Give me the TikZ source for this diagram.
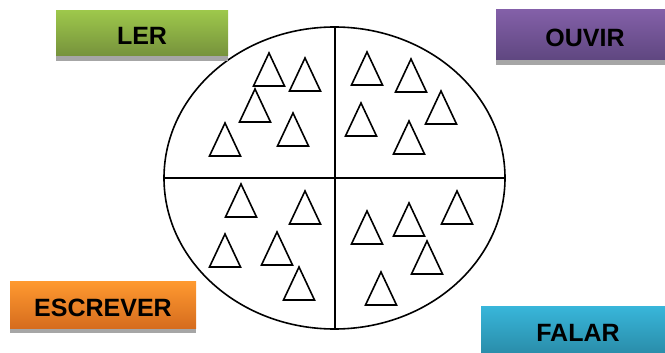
\documentclass[tikz,border=0pt]{standalone}
\usepackage{fontspec}
\setmainfont{Liberation Sans}
\usepackage{tikz}
\usetikzlibrary{positioning, calc}
\definecolor{gruenO}{HTML}{9DC74B}
\definecolor{gruenU}{HTML}{76923C}
\definecolor{lilaO}{HTML}{8360A8}
\definecolor{lilaU}{HTML}{5F4780}
\definecolor{orangeO}{HTML}{FF9A30}
\definecolor{orangeU}{HTML}{D66C1E}
\definecolor{tuerkisO}{HTML}{38B6DA}
\definecolor{tuerkisU}{HTML}{2A8DAA}
\definecolor{schatten}{HTML}{A6A6A6}

\begin{document}
\begin{tikzpicture}[x=1pt, y=-1pt,
        feld/.style={anchor=north west, inner sep=0pt, outer sep=0pt,
                     text height=23pt, text depth=0pt,
                     font=\fontsize{25}{25}\selectfont\bfseries},
        tri/.style={draw, line width=1.6pt, line join=miter},
        kreis/.style={draw, line width=1.6pt}
      ]
      \useasboundingbox (0,0) rectangle (665,353);

      % Kreis mit vier Feldern
      \draw[kreis] (334.5,178) ellipse [x radius=170.5, y radius=151];
      \coordinate (kO) at (335,27);
      \coordinate (kU) at (335,329);
      \coordinate (kL) at (164,178);
      \coordinate (kR) at (505,178);
      \draw[kreis] (kO) -- (kU);
      \draw[kreis] (kL) -- (kR);

      % Dreiecke (Spitze x/y)
      \foreach \x/\y in {269/53, 305/58, 255/89, 293/113, 225/123,
                         367/52, 411/59, 441/91, 361/103, 409/121,
                         241/184, 305/191, 225/234, 277/232, 299/267,
                         367/211, 409/203, 457/191, 427/241, 381/272} {
        \draw[tri] (\x,\y) -- ++(-15.5,33) -- ++(31,0) -- cycle;
      }

      % Schatten der Felder
      \fill[schatten] (56,56) rectangle (228,61);
      \fill[schatten] (496,60) rectangle (675,65);
      \fill[schatten] (10,328) rectangle (196,333);

      % Felder
      \node[feld, minimum width=172, minimum height=45,
            top color=gruenO, bottom color=gruenU] (ler) at (56,11) {LER};
      \node[feld, minimum width=178, minimum height=50,
            top color=lilaO, bottom color=lilaU] (ouvir) at (496,10) {OUVIR};
      \node[feld, minimum width=186, minimum height=47,
            top color=orangeO, bottom color=orangeU] (escrever) at (10,281) {ESCREVER};
      \node[feld, minimum width=194, minimum height=47,
            top color=tuerkisO, bottom color=tuerkisU] (falar) at (481,306) {FALAR};
    \end{tikzpicture}
\end{document}
